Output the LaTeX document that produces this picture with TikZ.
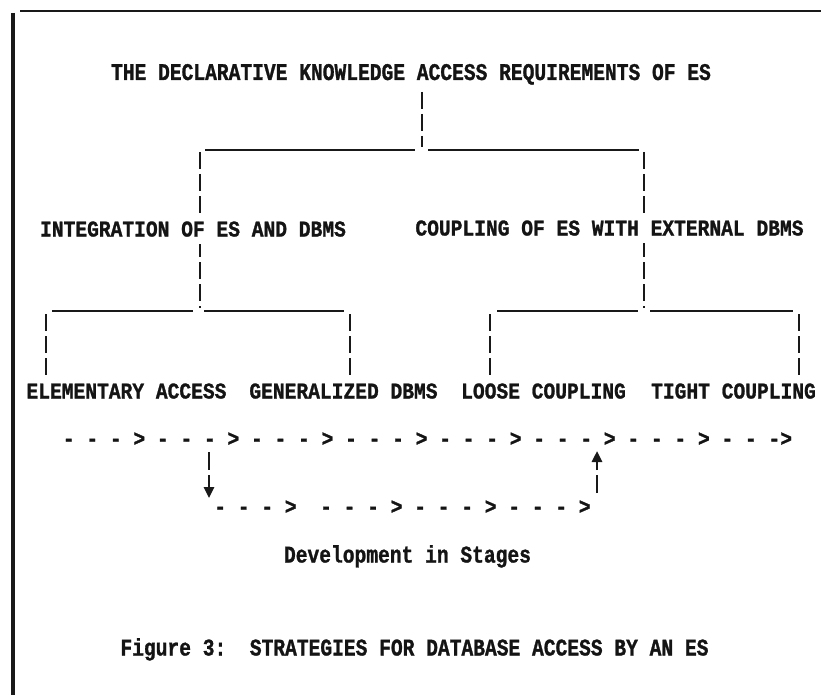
\documentclass[tikz,border=0pt]{standalone}
\usepackage{fontspec}
\usepackage{graphicx}
\usetikzlibrary{arrows.meta}
\newfontfamily\twfont[FakeBold=1.3]{Liberation Mono}
\newcommand\vs[1]{\scalebox{1}[1.15]{#1}}
\newcommand\vt[1]{\scalebox{1}[1.22]{#1}}
\tikzset{
  lbl/.style={font=\twfont\bfseries\fontsize{19.6}{22}\selectfont, inner sep=1pt, anchor=base, text=black!92},
  cover/.style={lbl, fill=white, inner ysep=7pt},
  vbar/.style={line width=2.6pt, dash pattern=on 17pt off 5pt, black!90},
  hbar/.style={line width=2.8pt, black!90},
  frame/.style={line width=3.2pt, black!90},
  stagearrow/.style={line width=2.6pt, dash pattern=on 18pt off 5pt, black!90, -{Triangle[width=10pt,length=11pt]}}
}
\begin{document}
\begin{tikzpicture}[x=1pt,y=-1pt]
\useasboundingbox (0,0) rectangle (821,695);
% frame
\coordinate (fl1) at (13,13); \coordinate (fl2) at (13,695);
\coordinate (ft1) at (20,11); \coordinate (ft2) at (821,11);
\draw[frame] (fl1) -- (fl2);
\draw[frame, line width=2.5pt] (ft1) -- (ft2);

% tree connectors
\coordinate (t-s) at (422,92);  \coordinate (t-j) at (422,147);
\draw[vbar] (t-s) -- (t-j);
\coordinate (h1a) at (205,150); \coordinate (h1b) at (415,150);
\coordinate (h1c) at (428,150); \coordinate (h1d) at (639,150);
\draw[hbar] (h1a) -- (h1b);
\draw[hbar] (h1c) -- (h1d);
\coordinate (i-n) at (200,152); \coordinate (i-s) at (200,308);
\coordinate (c-n) at (644,152); \coordinate (c-s) at (644,308);
\draw[vbar] (i-n) -- (i-s);
\draw[vbar] (c-n) -- (c-s);
\coordinate (h2a) at (52,311);  \coordinate (h2b) at (193,311);
\coordinate (h2c) at (204,311); \coordinate (h2d) at (344,311);
\coordinate (h2e) at (497,311); \coordinate (h2f) at (638,311);
\coordinate (h2g) at (650,311); \coordinate (h2h) at (793,311);
\draw[hbar] (h2a) -- (h2b);
\draw[hbar] (h2c) -- (h2d);
\draw[hbar] (h2e) -- (h2f);
\draw[hbar] (h2g) -- (h2h);
\coordinate (ea-n) at (46,314);  \coordinate (ea-s) at (46,377);
\coordinate (gd-n) at (350,314); \coordinate (gd-s) at (350,377);
\coordinate (lc-n) at (490,314); \coordinate (lc-s) at (490,377);
\coordinate (tc-n) at (799,314); \coordinate (tc-s) at (799,377);
\draw[vbar] (ea-n) -- (ea-s);
\draw[vbar] (gd-n) -- (gd-s);
\draw[vbar] (lc-n) -- (lc-s);
\draw[vbar] (tc-n) -- (tc-s);

% labels
\node[lbl] (title) at (411,80) {\vt{THE DECLARATIVE KNOWLEDGE ACCESS REQUIREMENTS OF ES}};
\node[cover] (integ) at (193,236.5) {\vs{INTEGRATION OF ES AND DBMS}};
\node[cover] (coupl) at (609.5,235.5) {\vs{COUPLING OF ES WITH EXTERNAL DBMS}};
\node[lbl] (elem) at (126.5,398.5) {\vs{ELEMENTARY ACCESS}};
\node[lbl] (gen) at (343.5,398.5) {\vs{GENERALIZED DBMS}};
\node[lbl] (loose) at (543.5,398.5) {\vs{LOOSE COUPLING}};
\node[lbl] (tight) at (733.5,398.5) {\vs{TIGHT COUPLING}};

% development rows
\node[lbl] (row1) at (427.5,446) {\vs{- - - > - - - > - - - > - - - > - - - > - - - > - - - > - - ->}};
\node[lbl] (row2) at (402.5,514) {\vs{- - - >\ \ - - - > - - - > - - - >}};
\coordinate (dn-a) at (209,452); \coordinate (dn-b) at (209,498);
\coordinate (up-a) at (597,493); \coordinate (up-b) at (597,451);
\draw[stagearrow] (dn-a) -- (dn-b);
\draw[stagearrow] (up-a) -- (up-b);

\node[lbl] (dev) at (407.5,562.5) {\vt{Development in Stages}};
\node[lbl] (cap) at (414.5,655.5) {\vt{Figure 3:\ \ STRATEGIES FOR DATABASE ACCESS BY AN ES}};
\end{tikzpicture}
\end{document}
